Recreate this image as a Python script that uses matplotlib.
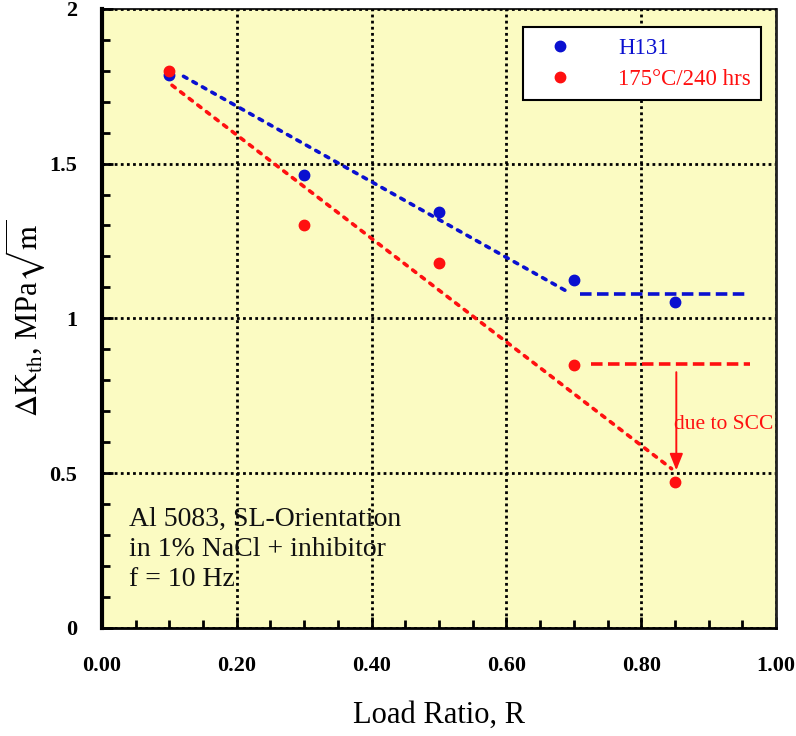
import matplotlib.pyplot as plt
from matplotlib.ticker import MultipleLocator, FormatStrFormatter

plt.rcParams['font.family'] = ['Liberation Serif', 'DejaVu Serif']
plt.rcParams['mathtext.fontset'] = 'stix'

# measured data
load_ratio = [0.10, 0.30, 0.50, 0.70, 0.85]
dk_h131 = [1.785, 1.464, 1.345, 1.124, 1.053]
dk_aged = [1.80, 1.30, 1.178, 0.85, 0.472]

# trend lines drawn by hand on the original chart
h131_fit_x = [0.121, 0.689]
h131_fit_y = [1.782, 1.088]
h131_flat_x = [0.709, 0.955]
h131_flat_y = [1.079, 1.079]
aged_fit_x = [0.104, 0.845]
aged_fit_y = [1.753, 0.514]
aged_flat_x = [0.726, 0.962]
aged_flat_y = [0.851, 0.851]

blue = '#0a10d0'
red = '#ff1010'

fig = plt.figure(figsize=(7.96, 7.36), dpi=100)
ax = fig.add_axes([0.128, 0.147, 0.847, 0.841])
ax.set_facecolor('#fbfbc2')

ax.plot(h131_fit_x, h131_fit_y, color=blue, lw=2.6, ls=(0, (1.1, 1.9)),
        dash_capstyle='round')
ax.plot(h131_flat_x, h131_flat_y, color=blue, lw=2.6, ls=(0, (3.2, 1.5)))
ax.plot(aged_fit_x, aged_fit_y, color=red, lw=2.6, ls=(0, (1.1, 1.9)),
        dash_capstyle='round')
ax.plot(aged_flat_x, aged_flat_y, color=red, lw=2.6, ls=(0, (3.2, 1.5)))

ax.plot(load_ratio, dk_h131, 'o', color=blue, ms=7.5, label='H131', zorder=5)
ax.plot(load_ratio, dk_aged, 'o', color=red, ms=7.5, label='175\u00b0C/240 hrs',
        zorder=5)

ax.annotate('', xy=(0.852, 0.50), xytext=(0.852, 0.835),
            arrowprops=dict(arrowstyle='-|>,head_length=1.0,head_width=0.4',
                            color=red, lw=1.4))
ax.text(0.849, 0.658, 'due to SCC', color=red, fontsize=15.5, va='center',
        ha='left')

ax.text(0.04, 0.39, 'Al 5083, SL-Orientation\nin 1% NaCl + inhibitor\nf = 10 Hz',
        fontsize=20, va='top', ha='left', linespacing=1.25, color='#111111')

ax.set_xlim(0, 1.0)
ax.set_ylim(0, 2.0)
ax.xaxis.set_major_locator(MultipleLocator(0.2))
ax.xaxis.set_minor_locator(MultipleLocator(0.05))
ax.yaxis.set_major_locator(MultipleLocator(0.5))
ax.yaxis.set_minor_locator(MultipleLocator(0.1))
ax.xaxis.set_major_formatter(FormatStrFormatter('%.2f'))
ax.yaxis.set_major_formatter(FormatStrFormatter('%g'))

ax.grid(True, which='major', color='black', ls=(0, (1, 1.2)), lw=2.0)
ax.tick_params(which='both', direction='in', top=False, right=False,
               width=2, color='black')
ax.tick_params(which='major', length=8, labelsize=16)
ax.tick_params(which='minor', length=6)
ax.tick_params(axis='x', which='major', pad=20)
ax.tick_params(axis='y', which='major', pad=18)
for lab in ax.get_xticklabels() + ax.get_yticklabels():
    lab.set_fontweight('bold')

ax.spines['left'].set_linewidth(3)
ax.spines['bottom'].set_linewidth(2)
ax.spines['bottom'].set_linestyle((0, (1, 1)))
ax.spines['top'].set_linewidth(1.2)
ax.spines['right'].set_linewidth(2)
ax.spines['right'].set_color('#222222')

ax.set_xlabel('Load Ratio, R', fontsize=22, labelpad=18)
ax.set_ylabel(r'$\Delta$K$_{\mathrm{th}}$, MPa$\sqrt{\mathrm{m}}$', fontsize=22)
ax.yaxis.set_label_coords(-0.082, 0.5)

leg = ax.legend(loc='upper right', bbox_to_anchor=(0.978, 0.97), fontsize=16.5,
                frameon=True, fancybox=False, edgecolor='black', framealpha=1,
                borderpad=0.45, labelspacing=0.45, handletextpad=1.4,
                handlelength=2.3, borderaxespad=0)
leg.get_frame().set_linewidth(1.5)
for txt, col in zip(leg.get_texts(), [blue, red]):
    txt.set_color(col)

fig.savefig('out.png', dpi=100)
